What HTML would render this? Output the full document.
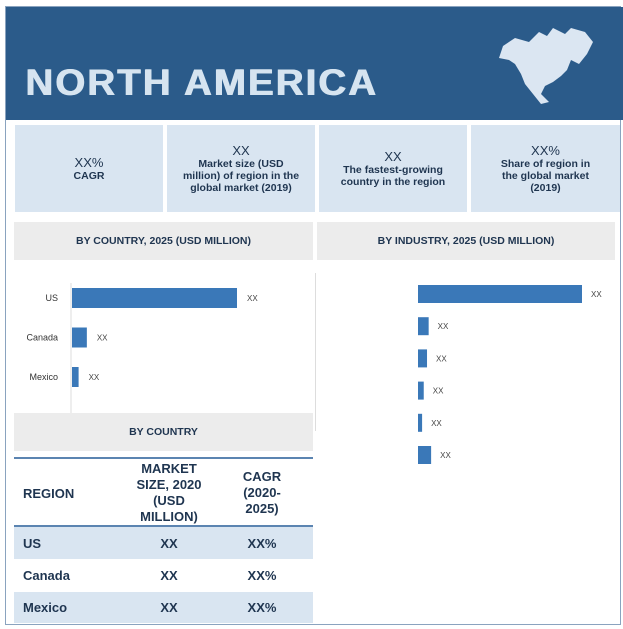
<!DOCTYPE html>
<html><head><meta charset="utf-8"><style>
body{margin:0;width:623px;height:629px;background:#fff;font-family:"Liberation Sans",sans-serif;position:relative;overflow:hidden}
div{position:absolute;box-sizing:border-box}
.kpi{background:#d9e5f1;top:125px;height:87px;color:#1f3550;text-align:center;font-size:10.5px;font-weight:bold;display:flex;flex-direction:column;justify-content:center;line-height:12px}
.kpi b{font-size:13px;font-weight:normal;line-height:14px}
.gh{background:#ececec;color:#1f3550;font-size:10.5px;font-weight:bold;text-align:center;display:flex;align-items:center;justify-content:center}
.cell{color:#1f3550;font-weight:bold;font-size:13px;display:flex;align-items:center}
</style></head><body>
<div style="left:5px;top:6px;width:616px;height:619px;border:1px solid #8aa3bf"></div>
<div style="left:6px;top:7px;width:617px;height:113px;background:#2b5b8a"></div>
<div style="left:25px;top:62px;font-size:37px;font-weight:bold;color:#d6e4f0;letter-spacing:2px;transform:scaleX(1.04);transform-origin:left top;text-shadow:1px 0 0 #d6e4f0">NORTH AMERICA</div>
<svg style="position:absolute;left:495px;top:24px" width="110" height="82"><path d="M8 22 L20 14 L34 18 L44 8 L52 12 L58 4 L70 10 L76 4 L90 8 L98 18 L92 30 L84 40 L76 36 L72 46 L66 52 L58 58 L50 62 L46 70 L54 78 L46 80 L38 70 L30 60 L26 50 L20 40 L14 36 L4 34 Z" fill="#dbe6f2"/></svg>
<div class="kpi" style="left:15px;width:148px"><b>XX%</b>CAGR</div>
<div class="kpi" style="left:167px;width:148px"><b>XX</b>Market size (USD<br>million) of region in the<br>global market (2019)</div>
<div class="kpi" style="left:319px;width:148px"><b>XX</b>The fastest-growing<br>country in the region</div>
<div class="kpi" style="left:471px;width:149px"><b>XX%</b>Share of region in<br>the global market<br>(2019)</div>
<div class="gh" style="left:14px;top:222px;width:299px;height:38px">BY COUNTRY, 2025 (USD MILLION)</div>
<div class="gh" style="left:317px;top:222px;width:298px;height:38px">BY INDUSTRY, 2025 (USD MILLION)</div>
<div style="left:315px;top:273px;width:1px;height:158px;background:#ddd"></div>
<svg id="charts" style="position:absolute;left:0;top:0" width="623" height="629"></svg>
<div class="gh" style="left:14px;top:413px;width:299px;height:38px">BY COUNTRY</div>
<div style="left:14px;top:457px;width:299px;height:166px;border-top:2px solid #5b84b1;border-bottom:2px solid #5b84b1">
 <div style="left:0;top:0;width:299px;height:68px;border-bottom:2px solid #5b84b1"></div>
 <div class="cell" style="left:9px;top:0;height:68px">REGION</div>
 <div class="cell" style="left:105px;width:100px;top:0;height:68px;justify-content:center;text-align:center;line-height:16px">MARKET<br>SIZE, 2020<br>(USD<br>MILLION)</div>
 <div class="cell" style="left:205px;width:86px;top:0;height:68px;justify-content:center;text-align:center;line-height:16px">CAGR<br>(2020-<br>2025)</div>
 <div style="left:0;top:68px;width:299px;height:32px;background:#d9e5f1"></div>
 <div style="left:0;top:133px;width:299px;height:31px;background:#d9e5f1"></div>
 <div class="cell" style="left:9px;top:68px;height:32px">US</div>
 <div class="cell" style="left:105px;width:100px;justify-content:center;top:68px;height:32px">XX</div>
 <div class="cell" style="left:205px;width:86px;justify-content:center;top:68px;height:32px">XX%</div>
 <div class="cell" style="left:9px;top:100px;height:33px">Canada</div>
 <div class="cell" style="left:105px;width:100px;justify-content:center;top:100px;height:33px">XX</div>
 <div class="cell" style="left:205px;width:86px;justify-content:center;top:100px;height:33px">XX%</div>
 <div class="cell" style="left:9px;top:133px;height:31px">Mexico</div>
 <div class="cell" style="left:105px;width:100px;justify-content:center;top:133px;height:31px">XX</div>
 <div class="cell" style="left:205px;width:86px;justify-content:center;top:133px;height:31px">XX%</div>
</div>
<script>
const countries=["US","Canada","Mexico"];
const countryValues=[100,9,4];
const countryLabels=["XX","XX","XX"];
const industryValues=[100,6.5,5.5,3.5,2.5,8];
const industryLabels=["XX","XX","XX","XX","XX","XX"];
const NS="http://www.w3.org/2000/svg";
const svg=document.getElementById('charts');
function mk(t,a){const e=document.createElementNS(NS,t);for(const k in a)e.setAttribute(k,a[k]);svg.appendChild(e);return e;}
const cx=v=>72+v/100*165, cy=i=>298+i*39.5;
const ax=mk('line',{x1:71,y1:283,x2:71,y2:424,stroke:'#ddd'});


countries.forEach((c,i)=>{
 const b=mk('rect',{x:72,y:cy(i)-10,width:cx(countryValues[i])-72,height:20,fill:'#3a78b8'});
 
 
 const t=mk('text',{x:58,y:cy(i)+3,'text-anchor':'end','font-size':9,fill:'#333'});t.textContent=c;
 
 
 const v=mk('text',{x:cx(countryValues[i])+10,y:cy(i)+3,'font-size':8,fill:'#444'});v.textContent=countryLabels[i];
 
 
});
const ix=v=>418+v/100*164, iy=i=>290+i*32.2;
industryValues.forEach((d,i)=>{
 const b=mk('rect',{x:418,y:iy(i)-5,width:ix(d)-418,height:18,fill:'#3a78b8'});
 
 
 const v=mk('text',{x:ix(d)+9,y:iy(i)+7,'font-size':8,fill:'#444'});v.textContent=industryLabels[i];
 
 
});
</script>
</body></html>
